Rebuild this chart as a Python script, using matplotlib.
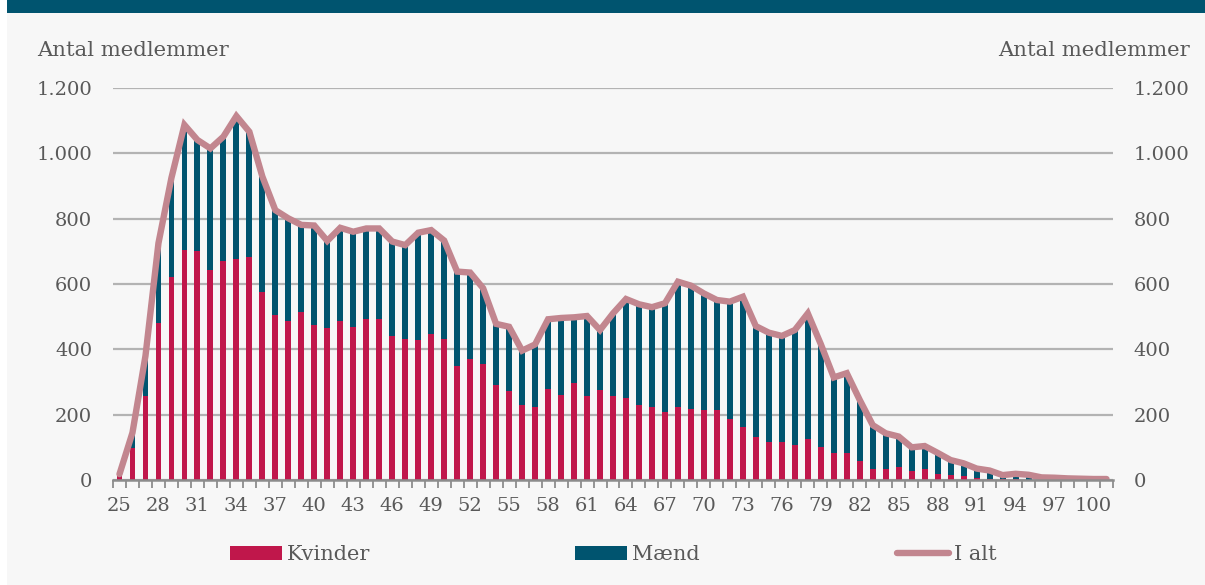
import matplotlib
matplotlib.use("Agg")
import matplotlib.pyplot as plt
from matplotlib.patches import Rectangle, Patch
from matplotlib.lines import Line2D
import numpy as np

ages = list(range(25, 102))
total = [18, 145, 380, 725, 925, 1087, 1041, 1015, 1051, 1114,
         1066, 929, 826, 801, 781, 779, 732, 772, 760, 770,
         770, 730, 719, 757, 765, 733, 638, 635, 587, 478,
         469, 396, 415, 492, 496, 498, 502, 459, 510, 554,
         538, 529, 541, 607, 595, 571, 551, 546, 561, 471,
         451, 441, 459, 510, 416, 314, 327, 245, 168, 143,
         133, 100, 104, 83, 61, 51, 35, 29, 15, 19,
         16, 8, 7, 5, 4, 3, 3]
kvinder = [15, 99, 258, 480, 622, 704, 702, 643, 670, 678,
           682, 577, 505, 487, 513, 476, 466, 487, 467, 493,
           493, 440, 431, 429, 447, 433, 349, 370, 356, 292,
           271, 229, 222, 279, 261, 296, 256, 276, 256, 252,
           231, 225, 209, 222, 218, 214, 214, 186, 163, 131,
           116, 117, 106, 125, 100, 82, 83, 59, 34, 33,
           39, 27, 33, 17, 15, 12, 6, 3, 2, 3,
           1, 1, 0, 0, 0, 0, 0]
maend = [t - k for t, k in zip(total, kvinder)]
y_ticks = [0, 200, 400, 600, 800, 1000, 1200]
y_labels = ["0", "200", "400", "600", "800", "1.000", "1.200"]
axis_title = "Antal medlemmer"
legend_labels = ["Kvinder", "Mænd", "I alt"]

RED = "#c0174b"
BLUE = "#00546f"
PINK = "#c2868f"
GRID = "#b3b3b3"
TXT = "#595959"
BG = "#f7f7f7"
FONT = "DejaVu Serif"

W, H = 1205, 585
fig = plt.figure(figsize=(W / 100, H / 100), dpi=100, facecolor="white")
fig.patches.append(Rectangle((7 / W, 0), 1 - 7 / W, 1, transform=fig.transFigure,
                             facecolor=BG, edgecolor="none", zorder=-10))
fig.patches.append(Rectangle((7 / W, 1 - 12.5 / H), 1 - 7 / W, 12.5 / H,
                             transform=fig.transFigure, facecolor=BLUE,
                             edgecolor="none", zorder=-9))

ax = fig.add_axes([113 / W, 1 - 480 / H, 1000 / W, 392 / H])
ax.set_facecolor(BG)
x = np.arange(len(ages))
bw = 0.45
ax.bar(x, kvinder, width=bw, color=RED, zorder=2)
ax.bar(x, maend, width=bw, bottom=kvinder, color=BLUE, zorder=2)
ax.plot(x, total, color=PINK, lw=4.6, solid_joinstyle="miter",
        solid_capstyle="round", zorder=3)

ax.set_xlim(-0.5, len(ages) - 0.5)
ax.set_ylim(0, 1200)
ax.set_yticks(y_ticks)
ax.set_yticklabels(y_labels)
ax.yaxis.grid(True, color=GRID, lw=1.6, zorder=0)
ax.set_axisbelow(True)
for s in ["top", "right", "left"]:
    ax.spines[s].set_visible(False)
ax.spines["bottom"].set_color("#8c8c8c")
ax.spines["bottom"].set_linewidth(1.8)
ax.spines["bottom"].set_zorder(4)

major = [i for i, a in enumerate(ages) if (a - 25) % 3 == 0]
ax.set_xticks(major)
ax.set_xticklabels([str(ages[i]) for i in major])
ax.set_xticks(np.arange(-0.5, len(ages), 1.0), minor=True)
ax.tick_params(axis="x", which="major", length=0, pad=12,
               labelsize=14, labelcolor=TXT)
ax.tick_params(axis="x", which="minor", length=6, width=1.3,
               color="#8c8c8c", direction="out")
ax.tick_params(axis="y", which="both", length=0, pad=15,
               labelsize=14, labelcolor=TXT, left=False, right=False,
               labelleft=True, labelright=True)
for lab in ax.get_xticklabels() + ax.get_yticklabels():
    lab.set_family(FONT)

fig.text(37 / W, 1 - 50 / H, axis_title, ha="left", va="center",
         fontsize=15.3, color=TXT, family=FONT)
fig.text(1190 / W, 1 - 50 / H, axis_title, ha="right", va="center",
         fontsize=15.3, color=TXT, family=FONT)

handles = [Patch(facecolor=RED, edgecolor="none"),
           Patch(facecolor=BLUE, edgecolor="none"),
           Line2D([], [], color=PINK, lw=4.6, solid_capstyle="round")]
xpos = [230, 575, 897]
for h, lab, xp in zip(handles, legend_labels, xpos):
    lg = fig.legend([h], [lab], loc="center left",
                    bbox_to_anchor=(xp / W, 1 - 555 / H),
                    frameon=False, handlelength=2.5, handleheight=0.65,
                    handletextpad=0.25, borderpad=0, borderaxespad=0,
                    prop={"family": FONT, "size": 15})
    for t in lg.get_texts():
        t.set_color(TXT)

fig.savefig("out.png", dpi=100, facecolor=fig.get_facecolor())
